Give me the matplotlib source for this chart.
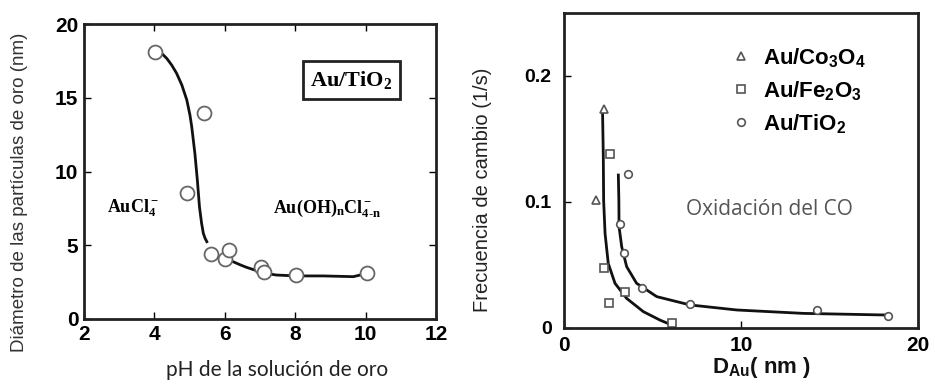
import matplotlib
matplotlib.use("Agg")
import matplotlib.pyplot as plt

plt.rcParams['mathtext.fontset'] = 'custom'
plt.rcParams['mathtext.rm'] = 'Liberation Serif:bold'
plt.rcParams['mathtext.it'] = 'Liberation Serif:italic:bold'
plt.rcParams['mathtext.bf'] = 'Liberation Sans:bold'
plt.rcParams['mathtext.sf'] = 'Liberation Sans:bold'

# left panel: particle size vs pH (Au/TiO2)
ph_pts = [4.02, 4.93, 5.41, 5.61, 6.0, 6.12, 7.03, 7.11, 8.02, 10.04]
d_pts = [18.1, 8.54, 13.97, 4.4, 4.07, 4.68, 3.53, 3.19, 2.98, 3.12]
# fitted curve as drawn, two pieces (gap under the markers)
ph_fit1 = [4.21, 4.35, 4.49, 4.63, 4.78, 4.92, 5.01, 5.06, 5.15, 5.22, 5.28, 5.34, 5.39, 5.44, 5.49]
d_fit1 = [18.0, 17.67, 17.22, 16.66, 15.86, 14.85, 13.83, 13.04, 11.23, 9.42, 7.61, 6.5, 5.81, 5.47, 5.24]
ph_fit2 = [6.24, 6.45, 6.62, 6.85, 7.0, 7.25, 7.47, 8.04, 8.8, 9.65, 9.84]
d_fit2 = [3.88, 3.66, 3.5, 3.32, 3.2, 3.06, 2.98, 2.92, 2.92, 2.87, 2.98]

# right panel: TOF vs Au diameter
co_x = [2.28, 1.79]
co_y = [0.1735, 0.1016]
fe_x = [2.6, 2.26, 2.56, 3.45, 6.12]
fe_y = [0.1378, 0.0473, 0.0201, 0.0288, 0.0037]
ti_x = [3.6, 3.16, 3.39, 4.43, 7.12, 14.27, 18.32]
ti_y = [0.122, 0.0823, 0.0593, 0.0315, 0.0188, 0.0143, 0.0098]
fitA_x = [2.18, 2.22, 2.24, 2.32, 2.5, 2.88, 3.54, 4.48, 5.42, 6.08]
fitA_y = [0.170, 0.136, 0.101, 0.075, 0.0513, 0.0355, 0.0235, 0.0130, 0.0063, 0.0024]
fitB_x = [3.07, 3.1, 3.11, 3.26, 3.54, 4.1, 5.24, 7.12, 9.76, 13.52, 18.23]
fitB_y = [0.1214, 0.101, 0.0804, 0.0645, 0.0487, 0.0355, 0.0249, 0.0183, 0.0143, 0.0116, 0.0103]

fig = plt.figure(figsize=(9.35, 3.85), dpi=100)

# ---- left chart
ax1 = fig.add_axes([84/935, 1-319/385, 352/935, 295/385])
ax1.plot(ph_fit1, d_fit1, color='#111111', lw=2)
ax1.plot(ph_fit2, d_fit2, color='#111111', lw=2)
ax1.plot(ph_pts, d_pts, 'o', ms=10, mfc='white', mec='#666666', mew=1.3)
ax1.set_xlim(2, 12)
ax1.set_ylim(0, 20)
ax1.set_xticks([2, 4, 6, 8, 10, 12])
ax1.set_yticks([0, 5, 10, 15, 20])
ax1.tick_params(direction='in', length=5, width=1, top=True, right=True,
                labelsize=15, pad=4)
for lab in ax1.get_xticklabels() + ax1.get_yticklabels():
    lab.set_fontweight('bold')
    lab.set_family('Liberation Sans')
for sp in ax1.spines.values():
    sp.set_linewidth(2)
    sp.set_color('#222222')

ax1.text(9.6, 16.2, r'Au/TiO$_2$', family='Liberation Serif', weight='bold',
         fontsize=16, ha='center', va='center',
         bbox=dict(boxstyle='square,pad=0.35', fc='white', ec='#222222', lw=2))
ax1.text(3.4, 7.5, r'AuCl$_4^-$', family='Liberation Serif', weight='bold',
         fontsize=13, ha='center', va='center')
ax1.text(8.9, 7.5, r'Au(OH)$_\mathrm{n}$Cl$_\mathrm{4\text{-}n}^-$', family='Liberation Serif',
         weight='bold', fontsize=13, ha='center', va='center')

fig.text(20/935, 1-192/385, 'Diámetro de las partículas de oro (nm)', rotation=90,
         family='Liberation Sans', fontsize=13.5, color='#333333', ha='center', va='center')
fig.text(277/935, 1-370/385, 'pH de la solución de oro', family='Lato',
         fontsize=15, color='#222222', ha='center', va='center')

# ---- right chart
ax2 = fig.add_axes([564/935, 1-328/385, 354/935, 315/385])
ax2.plot(fitA_x, fitA_y, color='#111111', lw=2)
ax2.plot(fitB_x, fitB_y, color='#111111', lw=2)
h1, = ax2.plot(co_x, co_y, '^', ms=6, mfc='white', mec='#555555', mew=1.2,
               label=r'Au/Co$_\mathsf{3}$O$_\mathsf{4}$')
h2, = ax2.plot(fe_x, fe_y, 's', ms=5.5, mfc='white', mec='#555555', mew=1.2,
               label=r'Au/Fe$_\mathsf{2}$O$_\mathsf{3}$')
h3, = ax2.plot(ti_x, ti_y, 'o', ms=5.5, mfc='white', mec='#555555', mew=1.2,
               label=r'Au/TiO$_\mathsf{2}$')
ax2.set_xlim(0, 20)
ax2.set_ylim(0, 0.25)
ax2.set_xticks([0, 10, 20])
ax2.set_xticklabels(['0', '10', '20'])
ax2.set_yticks([0, 0.1, 0.2])
ax2.set_yticklabels(['0', '0.1', '0.2'])
ax2.tick_params(direction='in', length=5, width=1)
ax2.tick_params(axis='x', pad=6, labelsize=15)
ax2.tick_params(axis='y', pad=9, labelsize=14)
for lab in ax2.get_xticklabels() + ax2.get_yticklabels():
    lab.set_fontweight('bold')
    lab.set_family('Liberation Sans')
for sp in ax2.spines.values():
    sp.set_linewidth(2)
    sp.set_color('#222222')

leg = ax2.legend(handles=[h1, h2, h3], loc='upper left', bbox_to_anchor=(0.475, 0.895),
                 frameon=False, handlelength=0.8, handletextpad=0.6,
                 labelspacing=0.45, borderpad=0, borderaxespad=0,
                 prop=dict(family='Liberation Sans', weight='bold', size=16))

ax2.text(11.6, 0.094, 'Oxidación del CO', family='Open Sans', fontsize=15,
         color='#555555', ha='center', va='center')

fig.text(482/935, 1-190/385, 'Frecuencia de cambio (1/s)', rotation=90,
         family='Liberation Sans', fontsize=14.5,
         color='#222222', ha='center', va='center')
fig.text(761/935, 1-368/385, r'D$_\mathsf{Au}$( nm )', family='Liberation Sans',
         weight='bold', fontsize=16, color='#111111', ha='center', va='center')

fig.savefig('out.png', dpi=100)
